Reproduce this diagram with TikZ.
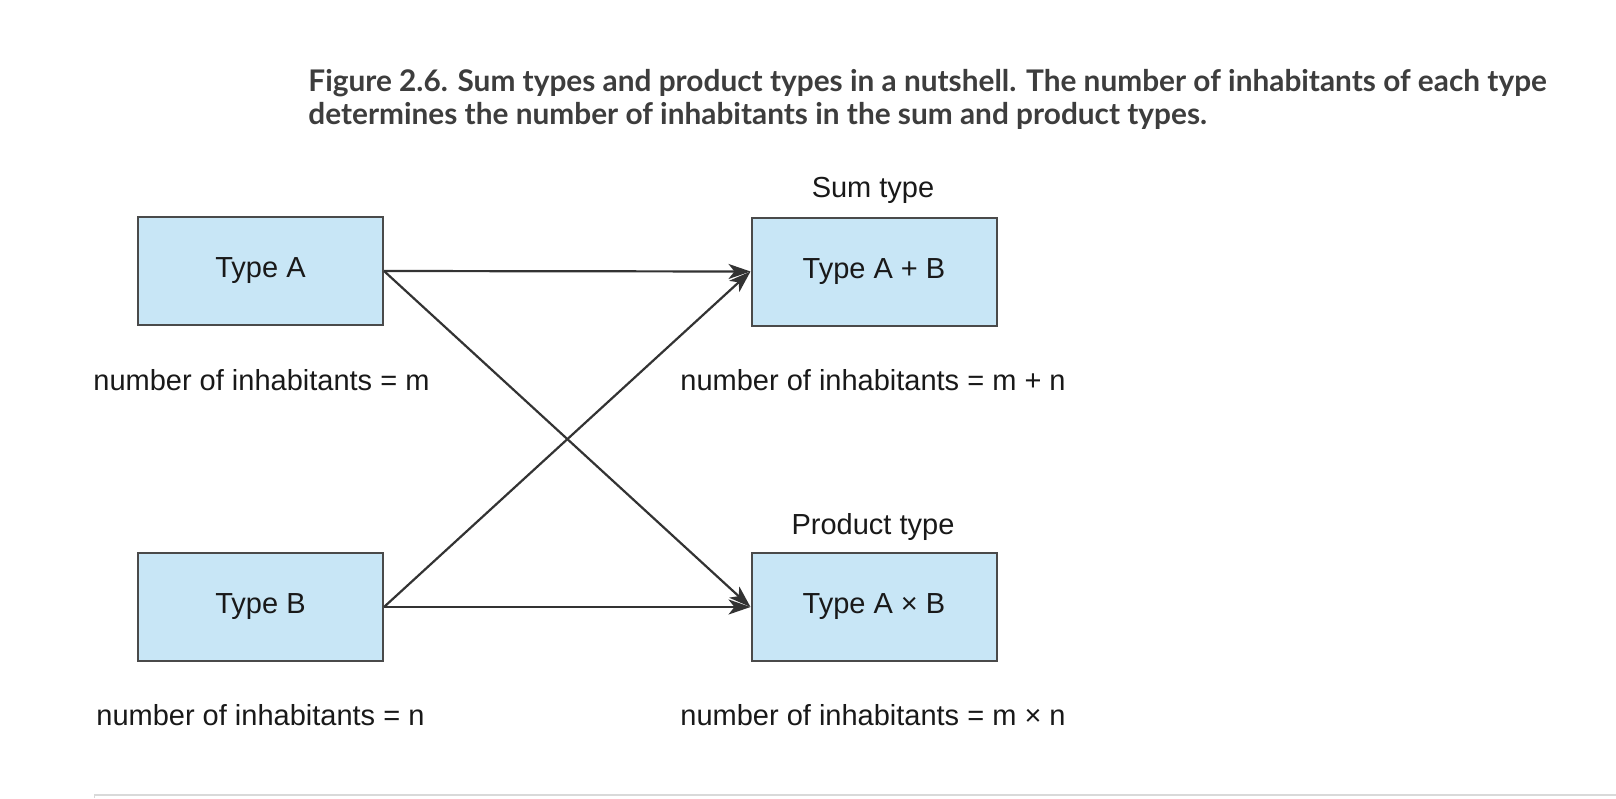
\documentclass[tikz,border=0pt]{standalone}
\usepackage{fontspec}
\setmainfont{Liberation Sans}
\newfontfamily\capfont{Lato}
\usetikzlibrary{arrows.meta}
\definecolor{boxfill}{HTML}{C8E6F6}
\definecolor{boxline}{HTML}{4A4A4A}
\definecolor{connline}{HTML}{333333}
\definecolor{captext}{HTML}{3D3D3D}
\definecolor{rulegray}{HTML}{D9D9D9}
\begin{document}
\begin{tikzpicture}[x=0.5pt,y=-0.5pt,
  typebox/.style={draw=boxline, fill=boxfill, line width=1pt, minimum width=122.5pt, minimum height=54pt, inner sep=0pt, font=\fontsize{14.5}{17}\selectfont, text=black!90},
  plain/.style={inner sep=0pt, font=\fontsize{14.5}{17}\selectfont, text=black!90},
  captxt/.style={inner sep=0pt, anchor=west, font=\capfont\bfseries\fontsize{14.9}{17}\selectfont, text=captext},
  conn/.style={draw=connline, line width=1.1pt, -{Stealth[length=11pt, width=7.5pt, inset=3pt]}}]
\useasboundingbox (0,0) rectangle (1616,798);
\fill[white] (0,0) rectangle (1616,798);
% caption
\node[captxt] (cap1) at (308,83) {Figure 2.6. Sum types and product types in a nutshell. The number of inhabitants of each type};
\node[captxt] (cap2) at (308,116) {determines the number of inhabitants in the sum and product types.};
% boxes
\node[typebox] (A) at (260.5,271) {Type A};
\node[typebox] (B) at (260.5,607) {Type B};
\node[typebox] (S) at (874,271.5) {Type A + B};
\node[typebox] (P) at (874,607) {Type A × B};
% labels
\node[plain] (sumlbl) at (873,190) {Sum type};
\node[plain] (prodlbl) at (873,527) {Product type};
\node[plain, anchor=west] (na) at (93,380) {number of inhabitants = m};
\node[plain, anchor=west] (ns) at (680,380) {number of inhabitants = m + n};
\node[plain, anchor=west] (nb) at (96,715) {number of inhabitants = n};
\node[plain, anchor=west] (np) at (680,715) {number of inhabitants = m × n};
% connectors
\draw[conn] (A.east) -- (S.west);
\draw[conn] (A.east) -- (P.west);
\draw[conn] (B.east) -- (S.west);
\draw[conn] (B.east) -- (P.west);
% bottom rule
\draw[rulegray, line width=1.2pt] (94,795) -- (1616,795);
\draw[rulegray, line width=0.6pt] (94.5,795) -- (94.5,798);
\end{tikzpicture}
\end{document}
